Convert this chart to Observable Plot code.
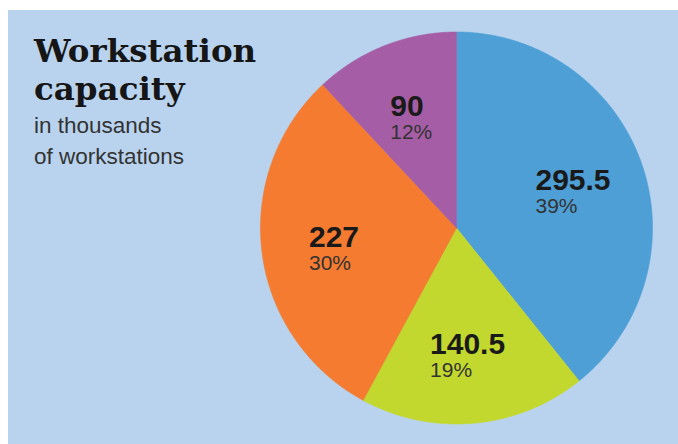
<!DOCTYPE html>
<html>
<head>
<meta charset="utf-8">
<script src="https://cdn.jsdelivr.net/npm/d3@7"></script>
<script src="https://cdn.jsdelivr.net/npm/@observablehq/plot@0.6"></script>
<style>
  html, body { margin: 0; padding: 0; background: #ffffff; width: 678px; height: 444px; overflow: hidden; }
  #panel { position: absolute; left: 8px; top: 10px; width: 670px; height: 434px; background: #b9d3ee; }
  #chart { position: absolute; left: 0; top: 0; }
  .title { position: absolute; left: 26px; height: 38px; font-family: "DejaVu Serif", serif; font-weight: bold;
           font-size: 32.5px; line-height: 38px; color: #161616; white-space: nowrap; }
  #sub { position: absolute; left: 26px; top: 99.7px; font-family: "Liberation Sans", Arial, sans-serif;
         font-size: 22.5px; line-height: 31px; color: #333333; white-space: nowrap; }
</style>
</head>
<body>
<div id="panel">
  <div id="chart"></div>
  <div class="title" style="top:22.3px">Workstation</div>
  <div class="title" style="top:60.3px">capacity</div>
  <div id="sub">in thousands<br>of workstations</div>
</div>
<script>
// ---- data ----
const categories = ["A", "B", "C", "D"];          // clockwise from 12 o'clock
const values = [295.5, 140.5, 227, 90];            // thousands of workstations
const valueLabels = ["295.5", "140.5", "227", "90"];
const colors = ["#4e9fd6", "#c2d82f", "#f47b30", "#a55ea6"];

// ---- geometry ----
const W = 670, H = 434;
const CX = 448, CY = 217.5, R = 196;               // layout of the pie in the svg
const total = d3.sum(values);
const pctLabels = values.map(v => Math.round(v / total * 100) + "%");

const arcs = d3.pie().sort(null).value(d => d)(values);

const slicePts = [];
arcs.forEach((a, i) => {
  const n = Math.ceil((a.endAngle - a.startAngle) / (Math.PI / 360));
  slicePts.push({cat: categories[i], x: 0, y: 0});
  for (let k = 0; k <= n; k++) {
    const t = a.startAngle + (a.endAngle - a.startAngle) * k / n;
    slicePts.push({cat: categories[i], x: Math.sin(t), y: Math.cos(t)});
  }
  slicePts.push({cat: categories[i], x: 0, y: 0});
});

// label placement: block centred at mid-angle, text left-aligned within block
const numSize = 30, pctSize = 21;
const charW = ch => ch === "." ? 0.278 : ch === "%" ? 0.889 : 0.556;
const textW = (s, size) => d3.sum([...s], charW) * size;
const labels = arcs.map((a, i) => {
  const mid = (a.startAngle + a.endAngle) / 2;
  const r = 0.63;
  const cx = r * Math.sin(mid), cy = r * Math.cos(mid);
  const bw = Math.max(textW(valueLabels[i], numSize), textW(pctLabels[i], pctSize));
  return {x: cx - (bw / 2) / R, y: cy, num: valueLabels[i], pct: pctLabels[i]};
});

const chart = Plot.plot({
  width: W,
  height: H,
  margin: 0,
  style: {background: "transparent", overflow: "visible"},
  x: {domain: [-1, 1], range: [CX - R, CX + R], axis: null},
  y: {domain: [-1, 1], range: [CY + R, CY - R], axis: null},
  color: {domain: categories, range: colors},
  marks: [
    Plot.line(slicePts, {x: "x", y: "y", z: "cat", fill: "cat", stroke: "cat", strokeWidth: 0.6, curve: "linear"}),
    Plot.text(labels, {x: "x", y: "y", text: "num", textAnchor: "start", lineAnchor: "bottom", dy: 3,
      fontFamily: "Liberation Sans, Arial, sans-serif", fontWeight: "bold", fontSize: numSize, fill: "#1a1a1a"}),
    Plot.text(labels, {x: "x", y: "y", text: "pct", textAnchor: "start", lineAnchor: "bottom", dy: 26,
      fontFamily: "Liberation Sans, Arial, sans-serif", fontSize: pctSize, fill: "#333333"})
  ]
});
document.getElementById("chart").appendChild(chart);
</script>
</body>
</html>
